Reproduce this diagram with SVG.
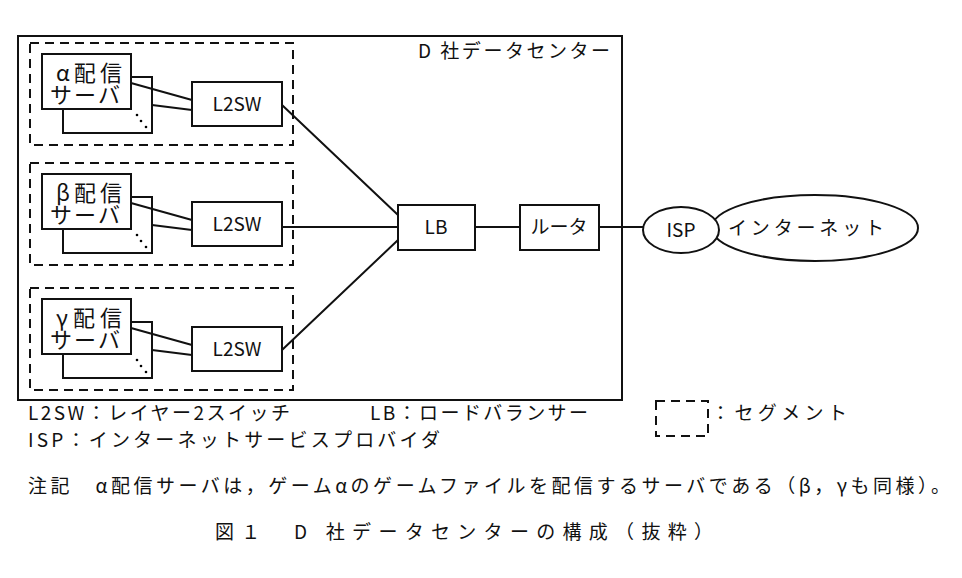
<svg xmlns="http://www.w3.org/2000/svg" width="962" height="578" viewBox="0 0 962 578">
<style>
text{font-family:"Noto Sans CJK JP","Noto Sans",sans-serif;fill:#111;font-size:19px}
.b{fill:#fff;stroke:#111;stroke-width:2}
.d{fill:none;stroke:#111;stroke-width:2;stroke-dasharray:9,6}
.l{stroke:#111;stroke-width:2;fill:none}
.m{text-anchor:middle}
.s{font-size:22px}
</style>
<rect width="962" height="578" fill="#fff"/>
<g id="dc"><rect x="18" y="36" width="604" height="364" class="l"/><text x="418" y="58" textLength="192">D 社データセンター</text></g>
<defs>
<g id="seg">
<rect x="30" y="43" width="263" height="102" class="d"/>
<rect x="63" y="77" width="89" height="56" class="b"/>
<rect x="42" y="54" width="89" height="55" class="b"/>
<circle cx="137" cy="115" r="1.3"/><circle cx="141" cy="121" r="1.3"/><circle cx="146" cy="127" r="1.3"/>
<rect x="192" y="82" width="90" height="44" class="b"/>
<text x="237" y="111" class="m">L2SW</text>
<text x="50" y="103" class="s" textLength="70">サーバ</text>
</g>
</defs>
<g id="seg-alpha"><use href="#seg"/><text x="56" y="81" class="s" textLength="66">α配信</text></g>
<g id="seg-beta" transform="translate(0,120)"><use href="#seg"/><text x="56" y="81" class="s" textLength="66">β配信</text></g>
<g id="seg-gamma" transform="translate(0,245)"><use href="#seg"/><text x="56" y="81" class="s" textLength="66">γ配信</text></g>
<g id="lb"><rect x="398" y="205" width="77" height="45" class="b"/><text x="436" y="234" class="m">LB</text></g>
<g id="router"><rect x="520" y="205" width="79" height="45" class="b"/><text x="559" y="234" class="m">ルータ</text></g>
<g id="internet"><ellipse cx="815" cy="228" rx="103" ry="33" class="b"/><text x="728" y="235" font-size="20" textLength="156">インターネット</text></g>
<g id="isp"><ellipse cx="681" cy="230" rx="38" ry="23" class="b"/><text x="681" y="237" class="m">ISP</text></g>
<g id="connectors" class="l">
<path d="M131 83L192 100M152 105L192 110"/>
<path d="M131 203L192 220M152 225L192 230"/>
<path d="M131 328L192 345M152 350L192 355"/>
<path d="M282 105L398 215M282 227L398 227M282 350L398 240M475 227L520 227M599 227L643 227"/>
</g>
<g id="legend">
<text x="28" y="420" textLength="262">L2SW：レイヤー2スイッチ</text>
<text x="370" y="420" textLength="218">LB：ロードバランサー</text>
<rect x="656" y="401" width="52" height="35" class="d"/>
<text x="711" y="420" textLength="136">：セグメント</text>
<text x="28" y="447" textLength="412">ISP：インターネットサービスプロバイダ</text>
<text x="28" y="493" textLength="922">注記　α配信サーバは，ゲームαのゲームファイルを配信するサーバである（β，γも同様）。</text>
<text x="215" y="539" font-size="24" textLength="498">図１　D 社データセンターの構成（抜粋）</text>
</g>
</svg>
